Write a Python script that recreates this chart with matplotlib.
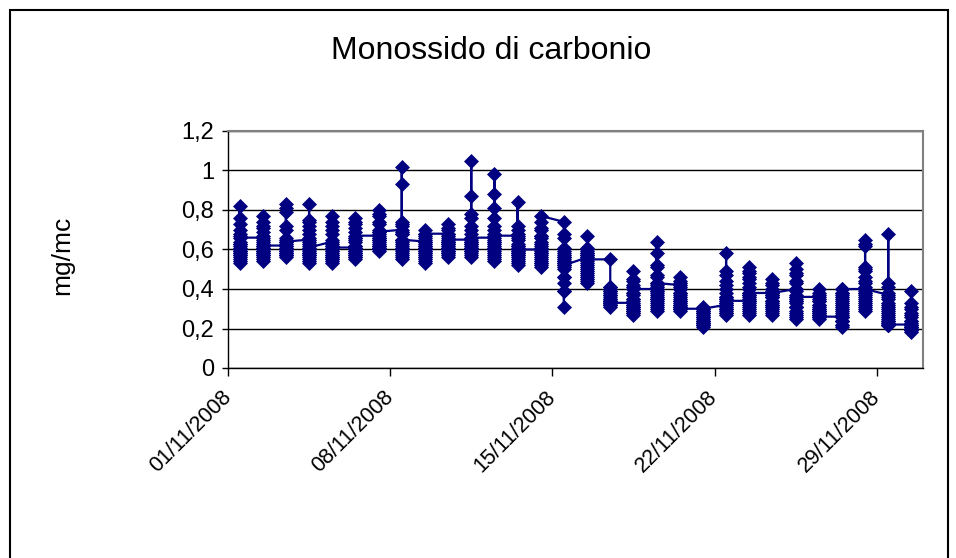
import pandas as pd
import matplotlib
matplotlib.use('Agg')
import matplotlib.pyplot as plt
import matplotlib.dates as mdates
from matplotlib.ticker import FuncFormatter, FixedLocator
from matplotlib.patches import Rectangle

# hourly CO values (mg/mc), one list per day, in hour order
nov01 = [0.62, 0.60, 0.58, 0.57, 0.55, 0.54, 0.53, 0.56, 0.59, 0.63, 0.68, 0.73, 0.76, 0.82, 0.70, 0.67, 0.64, 0.61, 0.59, 0.57, 0.58, 0.60, 0.63, 0.66]
nov02 = [0.66, 0.64, 0.61, 0.59, 0.57, 0.56, 0.55, 0.54, 0.58, 0.62, 0.67, 0.71, 0.74, 0.77, 0.72, 0.69, 0.65, 0.60, 0.58, 0.57, 0.59, 0.61, 0.63, 0.62]
nov03 = [0.62, 0.60, 0.58, 0.57, 0.56, 0.57, 0.59, 0.61, 0.64, 0.70, 0.72, 0.79, 0.83, 0.81, 0.66, 0.63, 0.60, 0.58, 0.57, 0.59, 0.60, 0.62, 0.65, 0.64]
nov04 = [0.65, 0.63, 0.60, 0.58, 0.56, 0.55, 0.54, 0.53, 0.57, 0.60, 0.64, 0.68, 0.72, 0.75, 0.83, 0.74, 0.70, 0.66, 0.62, 0.59, 0.57, 0.58, 0.60, 0.61]
nov05 = [0.64, 0.62, 0.59, 0.57, 0.55, 0.54, 0.53, 0.56, 0.60, 0.65, 0.70, 0.74, 0.77, 0.72, 0.68, 0.63, 0.60, 0.58, 0.56, 0.55, 0.57, 0.59, 0.62, 0.61]
nov06 = [0.61, 0.59, 0.57, 0.56, 0.55, 0.56, 0.58, 0.61, 0.65, 0.69, 0.73, 0.76, 0.74, 0.71, 0.66, 0.62, 0.59, 0.57, 0.58, 0.60, 0.62, 0.64, 0.66, 0.67]
nov07 = [0.67, 0.65, 0.63, 0.61, 0.60, 0.59, 0.60, 0.62, 0.66, 0.70, 0.74, 0.78, 0.80, 0.77, 0.73, 0.69, 0.65, 0.62, 0.61, 0.62, 0.64, 0.66, 0.68, 0.69]
nov08 = [0.70, 0.68, 0.65, 0.62, 0.60, 0.58, 0.56, 0.55, 0.57, 0.60, 0.64, 0.68, 0.72, 0.74, 0.93, 1.02, 0.73, 0.69, 0.65, 0.61, 0.59, 0.60, 0.63, 0.65]
nov09 = [0.64, 0.62, 0.60, 0.58, 0.56, 0.55, 0.54, 0.53, 0.56, 0.59, 0.62, 0.65, 0.68, 0.70, 0.67, 0.64, 0.61, 0.58, 0.57, 0.59, 0.61, 0.63, 0.66, 0.68]
nov10 = [0.68, 0.66, 0.63, 0.61, 0.59, 0.57, 0.56, 0.58, 0.61, 0.64, 0.67, 0.70, 0.73, 0.71, 0.68, 0.64, 0.61, 0.59, 0.58, 0.60, 0.62, 0.63, 0.64, 0.65]
nov11 = [0.65, 0.63, 0.61, 0.59, 0.57, 0.56, 0.58, 0.61, 0.64, 0.68, 0.72, 0.76, 0.87, 1.05, 0.78, 0.70, 0.66, 0.62, 0.60, 0.59, 0.61, 0.63, 0.64, 0.66]
nov12 = [0.66, 0.64, 0.62, 0.60, 0.58, 0.56, 0.55, 0.54, 0.57, 0.61, 0.65, 0.70, 0.76, 0.81, 0.88, 0.98, 0.72, 0.68, 0.63, 0.60, 0.59, 0.61, 0.64, 0.67]
nov13 = [0.67, 0.65, 0.62, 0.59, 0.57, 0.55, 0.53, 0.52, 0.54, 0.58, 0.63, 0.68, 0.72, 0.84, 0.70, 0.66, 0.62, 0.59, 0.57, 0.56, 0.58, 0.60, 0.61, 0.60]
nov14 = [0.60, 0.58, 0.56, 0.54, 0.53, 0.52, 0.51, 0.53, 0.55, 0.58, 0.61, 0.64, 0.67, 0.70, 0.66, 0.62, 0.59, 0.57, 0.60, 0.63, 0.67, 0.71, 0.74, 0.77]
nov15 = [0.74, 0.68, 0.66, 0.61, 0.58, 0.56, 0.54, 0.52, 0.50, 0.46, 0.43, 0.39, 0.31, 0.39, 0.46, 0.51, 0.53, 0.55, 0.57, 0.59, 0.56, 0.54, 0.53, 0.52]
nov16 = [0.56, 0.58, 0.61, 0.67, 0.60, 0.57, 0.54, 0.52, 0.50, 0.48, 0.46, 0.44, 0.43, 0.45, 0.47, 0.49, 0.51, 0.53, 0.55, 0.57, 0.59, 0.58, 0.56, 0.55]
nov17 = [0.55, 0.41, 0.39, 0.37, 0.35, 0.34, 0.33, 0.32, 0.31, 0.32, 0.34, 0.36, 0.38, 0.40, 0.41, 0.39, 0.37, 0.35, 0.34, 0.33, 0.32, 0.33, 0.34, 0.33]
nov18 = [0.33, 0.31, 0.29, 0.28, 0.27, 0.28, 0.30, 0.32, 0.35, 0.38, 0.42, 0.45, 0.49, 0.44, 0.41, 0.37, 0.34, 0.31, 0.29, 0.30, 0.32, 0.35, 0.38, 0.40]
nov19 = [0.40, 0.37, 0.34, 0.31, 0.29, 0.30, 0.32, 0.35, 0.39, 0.43, 0.47, 0.51, 0.58, 0.64, 0.52, 0.46, 0.42, 0.38, 0.35, 0.33, 0.36, 0.39, 0.41, 0.43]
nov20 = [0.42, 0.40, 0.38, 0.36, 0.34, 0.32, 0.30, 0.29, 0.31, 0.34, 0.37, 0.40, 0.43, 0.46, 0.44, 0.41, 0.38, 0.35, 0.33, 0.32, 0.31, 0.30, 0.31, 0.30]
nov21 = [0.30, 0.28, 0.26, 0.24, 0.23, 0.22, 0.21, 0.22, 0.23, 0.25, 0.27, 0.29, 0.31, 0.30, 0.28, 0.26, 0.24, 0.23, 0.22, 0.24, 0.26, 0.28, 0.29, 0.30]
nov22 = [0.32, 0.30, 0.28, 0.27, 0.28, 0.30, 0.33, 0.36, 0.40, 0.44, 0.49, 0.58, 0.47, 0.42, 0.38, 0.35, 0.32, 0.30, 0.29, 0.31, 0.33, 0.35, 0.36, 0.34]
nov23 = [0.34, 0.32, 0.30, 0.28, 0.27, 0.29, 0.31, 0.34, 0.37, 0.40, 0.43, 0.46, 0.49, 0.51, 0.48, 0.45, 0.41, 0.38, 0.35, 0.33, 0.34, 0.36, 0.37, 0.38]
nov24 = [0.38, 0.36, 0.34, 0.32, 0.30, 0.28, 0.27, 0.29, 0.31, 0.34, 0.37, 0.40, 0.43, 0.45, 0.42, 0.39, 0.36, 0.33, 0.31, 0.32, 0.34, 0.36, 0.37, 0.38]
nov25 = [0.40, 0.37, 0.34, 0.31, 0.29, 0.27, 0.25, 0.26, 0.28, 0.31, 0.35, 0.39, 0.43, 0.47, 0.50, 0.53, 0.48, 0.44, 0.40, 0.36, 0.33, 0.31, 0.34, 0.36]
nov26 = [0.36, 0.34, 0.32, 0.30, 0.28, 0.26, 0.25, 0.27, 0.29, 0.32, 0.35, 0.38, 0.40, 0.37, 0.34, 0.31, 0.29, 0.27, 0.26, 0.28, 0.30, 0.29, 0.27, 0.26]
nov27 = [0.26, 0.24, 0.22, 0.21, 0.22, 0.24, 0.26, 0.28, 0.30, 0.32, 0.34, 0.36, 0.38, 0.40, 0.37, 0.33, 0.29, 0.26, 0.24, 0.27, 0.31, 0.35, 0.38, 0.40]
nov28 = [0.40, 0.38, 0.35, 0.32, 0.30, 0.29, 0.31, 0.34, 0.38, 0.43, 0.46, 0.49, 0.51, 0.62, 0.65, 0.63, 0.50, 0.44, 0.41, 0.37, 0.33, 0.36, 0.39, 0.40]
nov29 = [0.37, 0.35, 0.32, 0.30, 0.28, 0.26, 0.24, 0.22, 0.25, 0.29, 0.33, 0.38, 0.43, 0.68, 0.41, 0.36, 0.31, 0.27, 0.24, 0.23, 0.22, 0.23, 0.22, 0.22]
nov30 = [0.22, 0.21, 0.20, 0.19, 0.18, 0.19, 0.20, 0.22, 0.24, 0.27, 0.30, 0.33, 0.39, 0.31, 0.28, 0.26, 0.24, 0.23, 0.21, 0.20, 0.19, 0.20, 0.21, 0.22]

days = [nov01, nov02, nov03, nov04, nov05, nov06, nov07, nov08, nov09, nov10,
        nov11, nov12, nov13, nov14, nov15, nov16, nov17, nov18, nov19, nov20,
        nov21, nov22, nov23, nov24, nov25, nov26, nov27, nov28, nov29, nov30]
dates = pd.date_range('2008-11-01', periods=len(days), freq='D')

title = 'Monossido di carbonio'
ylabel = 'mg/mc'
yticks = [0, 0.2, 0.4, 0.6, 0.8, 1.0, 1.2]
tick_dates = ['2008-11-01', '2008-11-08', '2008-11-15', '2008-11-22', '2008-11-29']

# Excel date axis: every value of a day sits in the middle of that day
x = []
y = []
for d, vals in zip(dates, days):
    x += [d + pd.Timedelta(hours=12)] * len(vals)
    y += vals

plt.rcParams['font.family'] = ['Liberation Sans', 'DejaVu Sans']
navy = '#000080'

W, H = 956, 558
fig = plt.figure(figsize=(W / 100, H / 100), dpi=100)
ax = fig.add_axes([228 / W, 1 - 368 / H, (923 - 228) / W, (368 - 131) / H])

ax.plot(x, y, color=navy, lw=1.6, marker='D', ms=7.4, mfc=navy, mec=navy, mew=0.5)

ax.set_xlim(dates[0], dates[-1] + pd.Timedelta(days=1))
ax.set_ylim(0, 1.2)
ax.set_yticks(yticks)
ax.yaxis.set_major_formatter(FuncFormatter(lambda v, p: ('%g' % v).replace('.', ',')))
ax.xaxis.set_major_locator(FixedLocator(mdates.date2num(pd.to_datetime(tick_dates))))
ax.xaxis.set_major_formatter(mdates.DateFormatter('%d/%m/%Y'))

ax.set_axisbelow(True)
ax.grid(axis='y', color='black', lw=1)
ax.tick_params(axis='y', length=4, width=1, pad=6, labelsize=17)
ax.tick_params(axis='x', length=6, width=1, pad=13, labelsize=15.5)
for lab in ax.get_xticklabels():
    lab.set_rotation(45)
    lab.set_ha('right')
    lab.set_va('center')
    lab.set_rotation_mode('anchor')

for s in ['top', 'right']:
    ax.spines[s].set_color('#808080')
    ax.spines[s].set_linewidth(1.5)
for s in ['left', 'bottom']:
    ax.spines[s].set_color('black')
    ax.spines[s].set_linewidth(1)

fig.text(491 / W, 1 - 51 / H, title, ha='center', va='center', fontsize=23)
fig.text(62 / W, 1 - 255 / H, ylabel, rotation=90, ha='center', va='center', fontsize=19)

# outer chart frame (runs past the bottom edge like the original)
fig.add_artist(Rectangle((10 / W, -0.02), (948 - 10) / W, 1 - 10 / H + 0.02,
                         transform=fig.transFigure, fill=False, ec='black', lw=1.5))

fig.savefig('out.png', dpi=100)
